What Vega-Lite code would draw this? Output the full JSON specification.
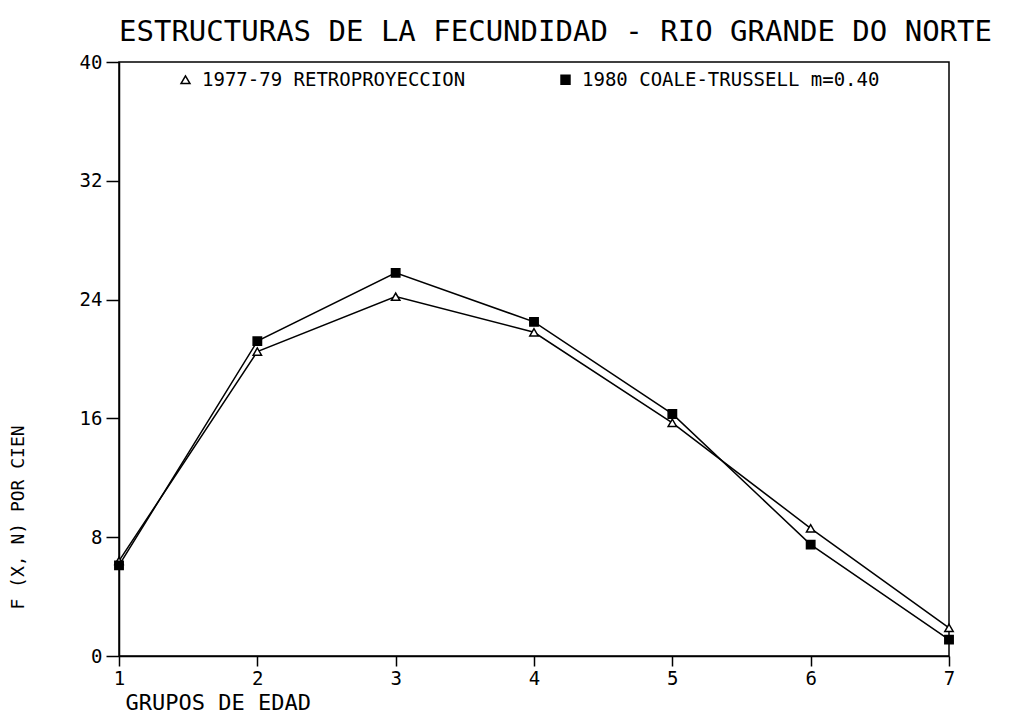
{
  "$schema": "https://vega.github.io/schema/vega-lite/v6.json",
  "width": 830,
  "height": 594,
  "autosize": {"type": "none"},
  "padding": {"left": 119, "top": 62, "right": 61, "bottom": 65},
  "background": "white",
  "title": {
    "text": "ESTRUCTURAS DE LA FECUNDIDAD - RIO GRANDE DO NORTE",
    "anchor": "start",
    "frame": "group",
    "offset": 6,
    "font": "DejaVu Sans Mono",
    "fontSize": 29,
    "fontWeight": "normal",
    "color": "black"
  },
  "config": {
    "view": {"stroke": "black", "strokeWidth": 1.5},
    "font": "DejaVu Sans Mono",
    "axis": {
      "domainColor": "black",
      "domainWidth": 1.5,
      "tickColor": "black",
      "tickWidth": 1.5,
      "labelColor": "black",
      "titleColor": "black",
      "labelFont": "DejaVu Sans Mono",
      "titleFont": "DejaVu Sans Mono",
      "titleFontWeight": "normal",
      "grid": false
    }
  },
  "data": {
    "values": [
      {"grupo": 1, "f": 6.4, "serie": "1977-79 RETROPROYECCION"},
      {"grupo": 2, "f": 20.5, "serie": "1977-79 RETROPROYECCION"},
      {"grupo": 3, "f": 24.2, "serie": "1977-79 RETROPROYECCION"},
      {"grupo": 4, "f": 21.8, "serie": "1977-79 RETROPROYECCION"},
      {"grupo": 5, "f": 15.7, "serie": "1977-79 RETROPROYECCION"},
      {"grupo": 6, "f": 8.6, "serie": "1977-79 RETROPROYECCION"},
      {"grupo": 7, "f": 1.9, "serie": "1977-79 RETROPROYECCION"},
      {"grupo": 1, "f": 6.1, "serie": "1980 COALE-TRUSSELL m=0.40"},
      {"grupo": 2, "f": 21.2, "serie": "1980 COALE-TRUSSELL m=0.40"},
      {"grupo": 3, "f": 25.8, "serie": "1980 COALE-TRUSSELL m=0.40"},
      {"grupo": 4, "f": 22.5, "serie": "1980 COALE-TRUSSELL m=0.40"},
      {"grupo": 5, "f": 16.3, "serie": "1980 COALE-TRUSSELL m=0.40"},
      {"grupo": 6, "f": 7.5, "serie": "1980 COALE-TRUSSELL m=0.40"},
      {"grupo": 7, "f": 1.1, "serie": "1980 COALE-TRUSSELL m=0.40"}
    ]
  },
  "encoding": {
    "x": {
      "field": "grupo",
      "type": "quantitative",
      "scale": {"domain": [1, 7], "nice": false, "zero": false},
      "axis": {
        "values": [1, 2, 3, 4, 5, 6, 7],
        "format": "d",
        "tickSize": 10,
        "labelFontSize": 19,
        "labelPadding": 3,
        "labelFlush": false,
        "title": "GRUPOS DE EDAD",
        "titleFontSize": 22,
        "titleAnchor": "start",
        "titleAlign": "left",
        "titleBaseline": "bottom",
        "titleX": 6,
        "titleY": 58
      }
    },
    "y": {
      "field": "f",
      "type": "quantitative",
      "scale": {"domain": [0, 40], "nice": false},
      "axis": {
        "values": [0, 8, 16, 24, 32, 40],
        "tickSize": 13,
        "labelFontSize": 19,
        "labelPadding": 4,
        "labelFlush": false,
        "title": "F (X, N)  POR CIEN",
        "titleFontSize": 18,
        "titleAngle": 270,
        "titleAlign": "center",
        "titleBaseline": "middle",
        "titleX": -101,
        "titleY": 455
      }
    }
  },
  "layer": [
    {
      "mark": {"type": "line", "color": "black", "strokeWidth": 1.5},
      "encoding": {"detail": {"field": "serie", "type": "nominal"}}
    },
    {
      "mark": {"type": "point", "filled": true, "stroke": "black", "strokeWidth": 1.5, "size": 70, "opacity": 1},
      "encoding": {
        "shape": {
          "field": "serie",
          "type": "nominal",
          "scale": {"domain": ["1977-79 RETROPROYECCION", "1980 COALE-TRUSSELL m=0.40"], "range": ["triangle-up", "square"]},
          "legend": {
            "title": null,
            "orient": "none",
            "legendX": 57,
            "legendY": 8,
            "direction": "horizontal",
            "columnPadding": 90,
            "labelFontSize": 19,
            "labelColor": "black",
            "labelFont": "DejaVu Sans Mono",
            "labelLimit": 400,
            "labelOffset": 7,
            "symbolSize": 80
          }
        },
        "fill": {
          "field": "serie",
          "type": "nominal",
          "scale": {"domain": ["1977-79 RETROPROYECCION", "1980 COALE-TRUSSELL m=0.40"], "range": ["white", "black"]},
          "legend": {
            "title": null,
            "orient": "none",
            "legendX": 57,
            "legendY": 8,
            "direction": "horizontal",
            "columnPadding": 90,
            "labelFontSize": 19,
            "labelColor": "black",
            "labelFont": "DejaVu Sans Mono",
            "labelLimit": 400,
            "labelOffset": 7,
            "symbolSize": 80
          }
        }
      }
    }
  ]
}
